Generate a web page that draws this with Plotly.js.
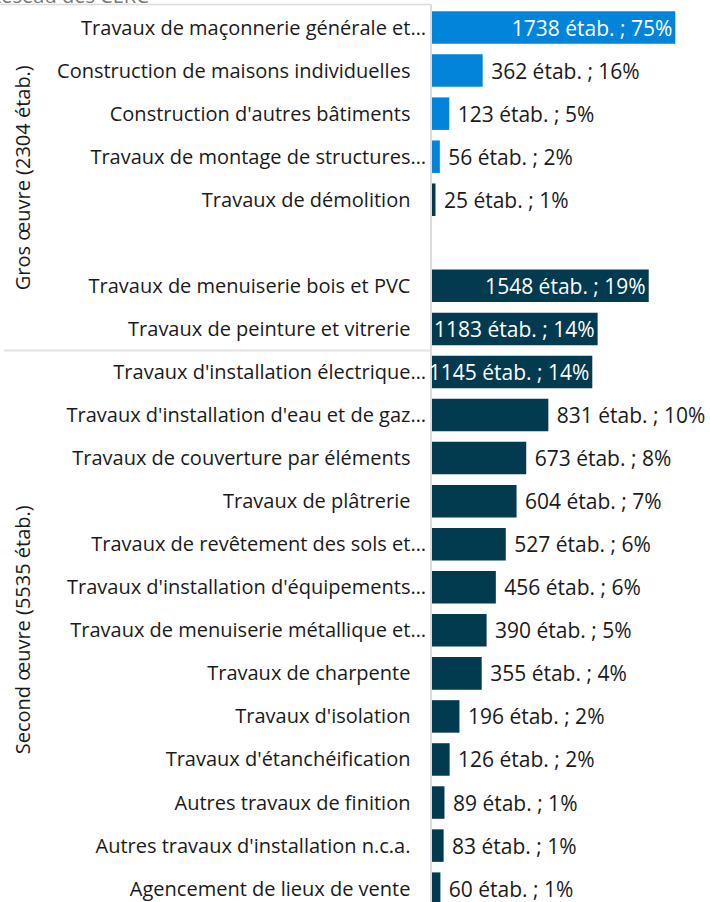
<!DOCTYPE html>
<html>
<head>
<meta charset="utf-8">
<script src="https://cdn.plot.ly/plotly-3.0.1.min.js"></script>
<style>html,body{margin:0;padding:0;background:#fff;}#chart{width:710px;height:902px;}</style>
</head>
<body>
<div id="chart"></div>
<script>
// ---- Data ----
const categories = [
  "Travaux de maçonnerie générale et…",
  "Construction de maisons individuelles",
  "Construction d'autres bâtiments",
  "Travaux de montage de structures…",
  "Travaux de démolition",
  " ",
  "Travaux de menuiserie bois et PVC",
  "Travaux de peinture et vitrerie",
  "Travaux d'installation électrique…",
  "Travaux d'installation d'eau et de gaz…",
  "Travaux de couverture par éléments",
  "Travaux de plâtrerie",
  "Travaux de revêtement des sols et…",
  "Travaux d'installation d'équipements…",
  "Travaux de menuiserie métallique et…",
  "Travaux de charpente",
  "Travaux d'isolation",
  "Travaux d'étanchéification",
  "Autres travaux de finition",
  "Autres travaux d'installation n.c.a.",
  "Agencement de lieux de vente"
];
const counts   = [1738, 362, 123, 56, 25, null, 1548, 1183, 1145, 831, 673, 604, 527, 456, 390, 355, 196, 126, 89, 83, 60];
const percents = [75, 16, 5, 2, 1, null, 19, 14, 14, 10, 8, 7, 6, 6, 5, 4, 2, 2, 1, 1, 1];
const seriesOf = [0, 0, 0, 0, 1, 1, 1, 1, 1, 1, 1, 1, 1, 1, 1, 1, 1, 1, 1, 1, 1];
const groupLabels = ["Gros œuvre (2304 étab.)", "Second œuvre (5535 étab.)"];
const groupFirst  = [0, 8];
const groupLast   = [7, 20];
const sourceText  = "Réseau des CERC";

// ---- Styles ----
const seriesColors = ["#0284DB", "#023A4F"];
const FONT = "Open Sans, Noto Sans, sans-serif";
const FS = 20;
const FS_VAL = 21;
const W = 710, H = 902;
const M = {l: 432, r: 0, t: 6, b: 0};
const plotW = W - M.l - M.r, plotH = H - M.t - M.b;
const pxToPaperX = px => (px - M.l) / plotW;
const pxToPaperY = py => 1 - (py - M.t) / plotH;

function label(i) {
  if (counts[i] == null) return "";
  return counts[i] + " étab. ; " + percents[i] + "%";
}
const isInside = i => counts[i] != null && counts[i] >= 1000;

const traces = [0, 1].map(s => {
  const idx = categories.map((c, i) => i).filter(i => seriesOf[i] === s);
  return {
    type: "bar",
    orientation: "h",
    y: idx.map(i => categories[i]),
    x: idx.map(i => counts[i]),
    text: idx.map(label),
    textposition: idx.map(i => isInside(i) ? "inside" : "outside"),
    insidetextanchor: "end",
    constraintext: "none",
    cliponaxis: false,
    texttemplate: idx.map(i => isInside(i) ? "%{text}" : "\u00a0%{text}"),
    insidetextfont: {family: FONT, size: FS_VAL, color: "#ffffff"},
    outsidetextfont: {family: FONT, size: FS_VAL, color: "#1a1a1a"},
    marker: {color: seriesColors[s], line: {width: 0}},
    hoverinfo: "skip",
    showlegend: false
  };
});

const tickText = categories.map(c => c.endsWith("…") ? c : c + '<span style="color:rgba(0,0,0,0)">…</span>');

const annotations = groupLabels.map((g, k) => ({
  text: g,
  xref: "paper", yref: "y",
  x: pxToPaperX(22), y: (groupFirst[k] + groupLast[k]) / 2,
  xanchor: "center", yanchor: "middle",
  textangle: -90, showarrow: false,
  font: {family: FONT, size: FS, color: "#1a1a1a"}
}));
annotations.push({
  text: sourceText, xref: "paper", yref: "paper",
  x: pxToPaperX(151), y: pxToPaperY(11),
  xanchor: "right", yanchor: "bottom", showarrow: false,
  font: {family: FONT, size: FS, color: "#7a7a7a"}
});

const shapes = [
  {type: "line", xref: "paper", yref: "paper", layer: "below",
   x0: pxToPaperX(0), x1: pxToPaperX(431), y0: pxToPaperY(4.5), y1: pxToPaperY(4.5),
   line: {color: "#dcdcdc", width: 1.5}},
  {type: "line", xref: "paper", yref: "paper", layer: "below",
   x0: pxToPaperX(431), x1: pxToPaperX(431), y0: pxToPaperY(4.5), y1: 0,
   line: {color: "#dcdcdc", width: 2}},
  {type: "line", xref: "paper", yref: "y", layer: "below",
   x0: pxToPaperX(4), x1: pxToPaperX(431), y0: groupLast[0] + 0.5, y1: groupLast[0] + 0.5,
   line: {color: "#e2e2e2", width: 2}}
];

const layout = {
  width: W, height: H,
  margin: M,
  paper_bgcolor: "#ffffff", plot_bgcolor: "#ffffff",
  font: {family: FONT, size: FS, color: "#1a1a1a"},
  barmode: "group",
  bargap: 0.245,
  showlegend: false,
  xaxis: {range: [0, plotW / 0.14], visible: false, showgrid: false, zeroline: false, fixedrange: true},
  yaxis: {
    type: "category",
    categoryorder: "array", categoryarray: categories,
    tickvals: categories, ticktext: tickText,
    range: [20.31, -0.5],
    showgrid: false, zeroline: false, showline: false,
    ticks: "", ticklabelstandoff: 5,
    tickfont: {family: FONT, size: FS, color: "#1a1a1a"},
    automargin: false, fixedrange: true
  },
  annotations: annotations,
  shapes: shapes
};

Plotly.newPlot("chart", traces, layout, {displayModeBar: false, staticPlot: true});
</script>
</body>
</html>
